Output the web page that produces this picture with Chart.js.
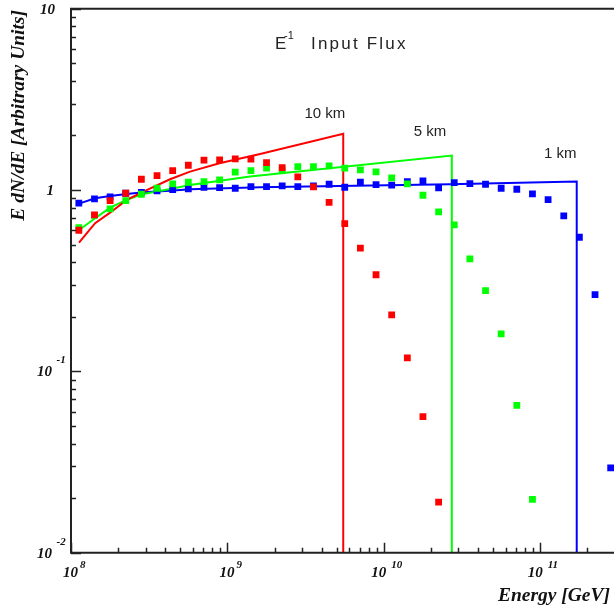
<!DOCTYPE html>
<html>
<head>
<meta charset="utf-8">
<script src="https://cdn.jsdelivr.net/npm/chart.js@4/dist/chart.umd.min.js"></script>
<style>
  html, body { margin: 0; padding: 0; background: #fff; }
  #wrap { width: 614px; height: 607px; }
</style>
</head>
<body>
<div id="wrap"><canvas id="c" width="614" height="607"></canvas></div>
<script>
// bin centres (GeV)
const energies = [
  1.122e8, 1.413e8, 1.778e8, 2.239e8, 2.818e8, 3.548e8, 4.467e8, 5.623e8, 7.079e8, 8.913e8,
  1.122e9, 1.413e9, 1.778e9, 2.239e9, 2.818e9, 3.548e9, 4.467e9, 5.623e9, 7.079e9, 8.913e9,
  1.122e10, 1.413e10, 1.778e10, 2.239e10, 2.818e10, 3.548e10, 4.467e10, 5.623e10, 7.079e10, 8.913e10,
  1.122e11, 1.413e11, 1.778e11, 2.239e11, 2.818e11
];
const red10km = [0.600, 0.729, 0.874, 0.960, 1.147, 1.200, 1.279, 1.370, 1.460, 1.466,
  1.484, 1.479, 1.416, 1.329, 1.181, 1.040, 0.856, 0.653, 0.478, 0.341,
  0.205, 0.1186, 0.0563, 0.0190];
const green5km = [0.620, 0.725, 0.787, 0.874, 0.948, 1.023, 1.080, 1.104, 1.113, 1.137,
  1.254, 1.279, 1.319, 1.279, 1.346, 1.346, 1.358, 1.319, 1.291, 1.259,
  1.166, 1.080, 0.936, 0.757, 0.642, 0.417, 0.279, 0.161, 0.065, 0.0197];
const blue1km = [0.846, 0.893, 0.916, 0.960, 0.972, 0.989, 1.005, 1.014, 1.036, 1.031,
  1.023, 1.044, 1.044, 1.053, 1.044, 1.053, 1.076, 1.036, 1.104, 1.071,
  1.063, 1.113, 1.123, 1.027, 1.098, 1.085, 1.076, 1.023, 1.010, 0.952,
  0.885, 0.720, 0.549, 0.265, 0.0294];

// input-flux curves
const redLineE = [1.125e8, 1.426e8, 1.778e8, 2.27e8, 2.904e8, 4.30e8, 5.77e8, 8.89e8, 1.618e9, 5.5e9, 5.5e9];
const redLineV = [0.513, 0.656, 0.750, 0.882, 0.980, 1.147, 1.263, 1.406, 1.582, 2.04, 0.01];
const greenLineE = [1.125e8, 1.426e8, 1.778e8, 2.27e8, 2.904e8, 4.30e8, 5.77e8, 1.395e9, 2.72e10, 2.72e10];
const greenLineV = [0.602, 0.699, 0.800, 0.882, 0.952, 1.014, 1.067, 1.186, 1.55, 0.01];
const blueLineE = [1.125e8, 1.426e8, 1.778e8, 2.27e8, 2.904e8, 4.30e8, 5.77e8, 1.618e9, 2.65e10, 1.71e11, 1.71e11];
const blueLineV = [0.841, 0.901, 0.928, 0.952, 0.972, 0.992, 1.010, 1.036, 1.076, 1.113, 0.01];

const xTickExps = [8, 9, 10, 11];
const yTickExps = [-2, -1, 0, 1];
const curveLabels = ['10 km', '5 km', '1 km'];
const curveLabelE = [4.2e9, 1.97e10, 1.34e11];
const curveLabelV = [2.66, 2.12, 1.61];

const pts = (xs, ys) => ys.map((v, i) => ({ x: xs[i], y: v }));

function markers(vals, color) {
  return { data: pts(energies, vals), showLine: false, pointStyle: 'rect',
    pointRadius: 4.8, pointHoverRadius: 4.8, pointBorderWidth: 0, backgroundColor: color, borderColor: color };
}
function curve(xs, ys, color) {
  return { data: pts(xs, ys), showLine: true, pointRadius: 0, borderWidth: 2,
    borderColor: color, backgroundColor: color, tension: 0, fill: false };
}

const serif = '"Liberation Serif", "Times New Roman", serif';
const sans = '"Liberation Sans", Arial, sans-serif';

const decor = {
  id: 'decor',
  afterDatasetsDraw(chart) {
    const { ctx, chartArea: a, scales: { x, y } } = chart;
    ctx.save();
    ctx.strokeStyle = '#222';
    ctx.lineWidth = 2;
    ctx.beginPath();
    ctx.moveTo(a.right, a.top); ctx.lineTo(a.left, a.top);
    ctx.lineTo(a.left, a.bottom); ctx.lineTo(a.right, a.bottom);
    ctx.stroke();

    // ticks, pointing inward
    ctx.lineWidth = 1.5;
    ctx.beginPath();
    for (let e = 8; e <= 11; e++) {
      for (let m = 1; m <= 9; m++) {
        const v = m * Math.pow(10, e);
        if (v > x.max) break;
        const px = Math.round(x.getPixelForValue(v)) + 0.5;
        ctx.moveTo(px, a.bottom); ctx.lineTo(px, a.bottom - (m === 1 ? 10 : 5));
      }
    }
    for (let e = -2; e <= 1; e++) {
      for (let m = 1; m <= 9; m++) {
        const v = m * Math.pow(10, e);
        if (v > y.max + 1e-9) break;
        const py = Math.round(y.getPixelForValue(v)) + 0.5;
        ctx.moveTo(a.left, py); ctx.lineTo(a.left + (m === 1 ? 10 : 5), py);
      }
    }
    ctx.stroke();

    // tick labels
    ctx.fillStyle = '#111';
    ctx.textBaseline = 'alphabetic';
    xTickExps.forEach(e => {
      const px = x.getPixelForValue(Math.pow(10, e));
      const two = String(e).length > 1;
      const left = px - (two ? 12.6 : 8);
      ctx.font = 'italic bold 15px ' + serif;
      ctx.textAlign = 'left';
      ctx.fillText('10', left, 577);
      const w = ctx.measureText('10').width;
      ctx.font = 'italic bold 11px ' + serif;
      ctx.fillText(String(e), left + w + (two ? 5 : 2), 568);
    });
    yTickExps.forEach(e => {
      const py = y.getPixelForValue(Math.pow(10, e));
      ctx.font = 'italic bold 15px ' + serif;
      ctx.textAlign = 'right';
      if (e === 0) { ctx.fillText('1', 54, py + 5); return; }
      if (e === 1) { ctx.fillText('10', 55, py + 5); return; }
      ctx.fillText('10', 52, py + 5);
      ctx.font = 'italic bold 11px ' + serif;
      ctx.textAlign = 'left';
      ctx.fillText(String(e), 56.5, py - 8);
    });

    // axis titles
    ctx.font = 'italic bold 19.5px ' + serif;
    ctx.textAlign = 'right';
    ctx.fillText('Energy [GeV]', 610, 601);
    ctx.save();
    ctx.translate(24, 10);
    ctx.rotate(-Math.PI / 2);
    ctx.textAlign = 'right';
    ctx.fillText('E dN/dE [Arbitrary Units]', 0, 0);
    ctx.restore();

    // title
    ctx.fillStyle = '#222';
    ctx.textAlign = 'left';
    ctx.font = '17px ' + sans;
    ctx.fillText('E', 275, 48.5);
    ctx.font = '11px ' + sans;
    ctx.fillText('-1', 284, 39);
    ctx.font = '17px ' + sans;
    ctx.letterSpacing = '2.2px';
    ctx.fillText('Input Flux', 311, 48.5);
    ctx.letterSpacing = '0px';

    // curve labels
    ctx.font = '15px ' + sans;
    ctx.textAlign = 'center';
    curveLabels.forEach((t, i) => {
      ctx.fillText(t, x.getPixelForValue(curveLabelE[i]), y.getPixelForValue(curveLabelV[i]) + 5);
    });
    ctx.restore();
  }
};

new Chart(document.getElementById('c'), {
  type: 'scatter',
  data: {
    datasets: [
      markers(red10km, '#ff0000'),
      markers(green5km, '#00ff00'),
      markers(blue1km, '#0000ff'),
      curve(redLineE, redLineV, '#ff0000'),
      curve(greenLineE, greenLineV, '#00ff00'),
      curve(blueLineE, blueLineV, '#0000ff')
    ]
  },
  options: {
    responsive: false,
    animation: false,
    events: [],
    layout: { autoPadding: false, padding: { top: 8.7, left: 0, right: 0, bottom: 0 } },
    plugins: { legend: { display: false }, tooltip: { enabled: false } },
    scales: {
      x: {
        type: 'logarithmic', min: 1e8, max: 2.96e11,
        grid: { display: false }, border: { display: false },
        ticks: { display: false },
        afterFit: s => { s.height = 54.3; }
      },
      y: {
        type: 'logarithmic', min: 0.01, max: 10,
        grid: { display: false }, border: { display: false },
        ticks: { display: false },
        afterFit: s => { s.width = 71; }
      }
    }
  },
  plugins: [decor]
});
</script>
</body>
</html>
